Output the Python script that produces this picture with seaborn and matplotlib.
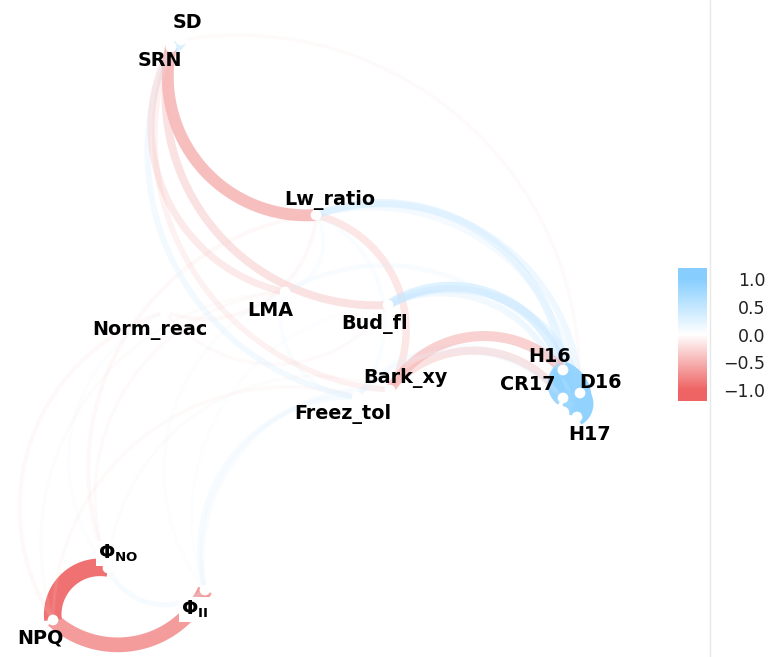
import numpy as np
import pandas as pd
import matplotlib
matplotlib.use("Agg")
import matplotlib.pyplot as plt
import seaborn as sns

# variables in the order of the correlation table, with their MDS coordinates
nodes = ["ΦII", "NPQ", "ΦNO", "Lw_ratio", "Bud_fl", "Bark_xy", "Freez_tol", "LMA",
         "Norm_reac", "SD", "SRN", "CR17", "D16", "H16", "H17"]
node_x = [-0.3625, -0.7425, -0.605, -0.085, 0.095, 0.100, 0.0175, -0.1625,
          -0.4625, -0.4225, -0.4475, 0.5325, 0.575, 0.5325, 0.5675]
node_y = [-0.650, -0.725, -0.595, 0.2875, 0.0625, -0.150, -0.1675, 0.095,
          0.045, 0.725, 0.7075, -0.170, -0.1575, -0.100, -0.2175]
node_text = {"ΦII": "Φ$_\\mathregular{II}$", "ΦNO": "Φ$_\\mathregular{NO}$"}

# correlations shown as paths
edge_a = ["ΦNO", "ΦII", "H16", "H16", "H16", "CR17", "CR17", "D16",
          "SD", "SRN", "SRN", "SRN", "SRN", "SRN", "SD",
          "Lw_ratio", "Lw_ratio", "Lw_ratio", "Lw_ratio", "Lw_ratio", "Lw_ratio",
          "Bud_fl", "Bud_fl", "Bud_fl", "Bark_xy", "Bark_xy",
          "Freez_tol", "Freez_tol", "LMA", "LMA",
          "Norm_reac", "Norm_reac", "Norm_reac",
          "ΦNO", "ΦNO", "ΦNO", "ΦNO", "ΦII", "ΦII", "ΦII",
          "NPQ", "NPQ", "ΦNO", "ΦII"]
edge_b = ["NPQ", "NPQ", "D16", "CR17", "H17", "D16", "H17", "H17",
          "SRN", "Lw_ratio", "Bud_fl", "LMA", "Bark_xy", "Freez_tol", "H17",
          "H16", "D16", "H17", "Bark_xy", "LMA", "Freez_tol",
          "H16", "D16", "CR17", "H16", "CR17",
          "H17", "CR17", "H17", "Freez_tol",
          "Lw_ratio", "Bud_fl", "NPQ",
          "Lw_ratio", "LMA", "Norm_reac", "ΦII", "Freez_tol", "Bark_xy", "LMA",
          "LMA", "Freez_tol", "Bark_xy", "Bud_fl"]
edge_r = [-0.92, -0.78, 0.93, 0.88, 0.90, 0.90, 0.88, 0.92,
          0.55, -0.64, -0.45, -0.40, -0.33, 0.35, -0.22,
          0.44, 0.38, 0.33, -0.42, 0.25, 0.25,
          0.52, 0.44, 0.36, -0.55, -0.45,
          0.28, 0.27, 0.28, 0.24,
          -0.25, -0.22, -0.25,
          -0.25, -0.22, 0.22, 0.30, 0.30, 0.28, 0.22,
          -0.20, -0.22, -0.20, 0.20]

# label offsets from the point (pixels, right / down)
lab_dx = [-10, -13, 10, 14, -13, 15, -14, -15, -15, 6, -11, -35, 21, -13, 13]
lab_dy = [18, 17, -16, -17, 18, -13, 15, 17, 16, -18, 12, -14, -12, -14, 16]

sns.set_theme(style="white")
plt.rcParams["font.family"] = ["DejaVu Sans"]

cmap = sns.blend_palette(["#EE6363", "white", "#87CEFF"], as_cmap=True)
norm = plt.Normalize(-1, 1)


def arc(p0, p1, bend=0.5, n=80):
    p0, p1 = np.asarray(p0), np.asarray(p1)
    d = p1 - p0
    L = np.hypot(*d)
    half = L / 2
    m = (p0 + p1) / 2
    right = np.array([d[1], -d[0]]) / L
    s = bend * half
    R = (half ** 2 + s ** 2) / (2 * s)
    c = m + right * (s - R)
    apex = np.arctan2(right[1], right[0])
    wrap = lambda a: (a + np.pi) % (2 * np.pi) - np.pi
    a0 = wrap(np.arctan2(*(p0 - c)[::-1]) - apex)
    a1 = wrap(np.arctan2(*(p1 - c)[::-1]) - apex)
    t = apex + np.linspace(a0, a1, n)
    return c[0] + R * np.cos(t), c[1] + R * np.sin(t)


fig = plt.figure(figsize=(7.69, 6.57), dpi=100)
ax = fig.add_axes([0, 0, 1, 1])
ax.set_xlim(-0.875, 1.0475)
ax.set_ylim(-0.8175, 0.825)
ax.set_axis_off()

pos = dict(zip(nodes, zip(node_x, node_y)))
rank = {n: i for i, n in enumerate(nodes)}

edges = pd.DataFrame({"a": edge_a, "b": edge_b, "r": edge_r})
# path starts at the later variable (row) and ends at the earlier one (column)
edges["start"] = [a if rank[a] > rank[b] else b for a, b in zip(edges.a, edges.b)]
edges["end"] = [b if rank[a] > rank[b] else a for a, b in zip(edges.a, edges.b)]
edges["row"] = edges.start.map(rank)
edges["col"] = edges.end.map(rank)
edges = edges.sort_values(["row", "col"])
prox = edges.r.abs()
sc = (prox - prox.min()) / (prox.max() - prox.min())
edges["alpha"] = 0.1 + 0.9 * sc
edges["lw"] = (1 + 5 * sc) * 2.134

for _, e in edges.iterrows():
    xs, ys = arc(pos[e.start], pos[e.end])
    ax.plot(xs, ys, color=cmap(norm(e.r)), alpha=e.alpha, lw=e.lw,
            solid_capstyle="butt", zorder=1)

pts = pd.DataFrame({"x": node_x, "y": node_y, "id": nodes})
sns.scatterplot(data=pts, x="x", y="y", color="white", s=60, edgecolor="none",
                ax=ax, zorder=3, legend=False)
ax.set_axis_off()

for n, x, y, dx, dy in zip(nodes, node_x, node_y, lab_dx, lab_dy):
    txt = node_text.get(n, n)
    kw = {}
    if n in node_text:
        kw["bbox"] = dict(boxstyle="square,pad=0.1", fc="white", ec="none")
    ax.annotate(txt, (x, y), xytext=(dx * 0.72, -(dy + 6.5) * 0.72),
                textcoords="offset points", ha="center", va="baseline",
                fontsize=13.8, fontweight="bold", color="black", zorder=4, **kw)

ticks = [-1, -0.5, 0, 0.5, 1]
cax = fig.add_axes([678 / 769, 1 - 401 / 657, 29 / 769, 133 / 657])
sm = plt.cm.ScalarMappable(norm=norm, cmap=cmap)
cb = fig.colorbar(sm, cax=cax, ticks=ticks, extend="both", extendrect=True,
                  extendfrac=0.1)
cb.outline.set_visible(False)
cb.ax.set_yticklabels([f"{t:.1f}".replace("-", "\u2212") for t in ticks])
cax.tick_params(axis="y", direction="in", color="white", length=6, width=1,
                left=True, right=True, labelcolor="#222222", labelsize=12.5, pad=42)
for lbl in cax.get_yticklabels():
    lbl.set_horizontalalignment("right")

fig.add_artist(plt.Line2D([710 / 769, 710 / 769], [0, 1], transform=fig.transFigure,
                          color="#E8E8E8", lw=1))

fig.savefig("out.png", dpi=100)
